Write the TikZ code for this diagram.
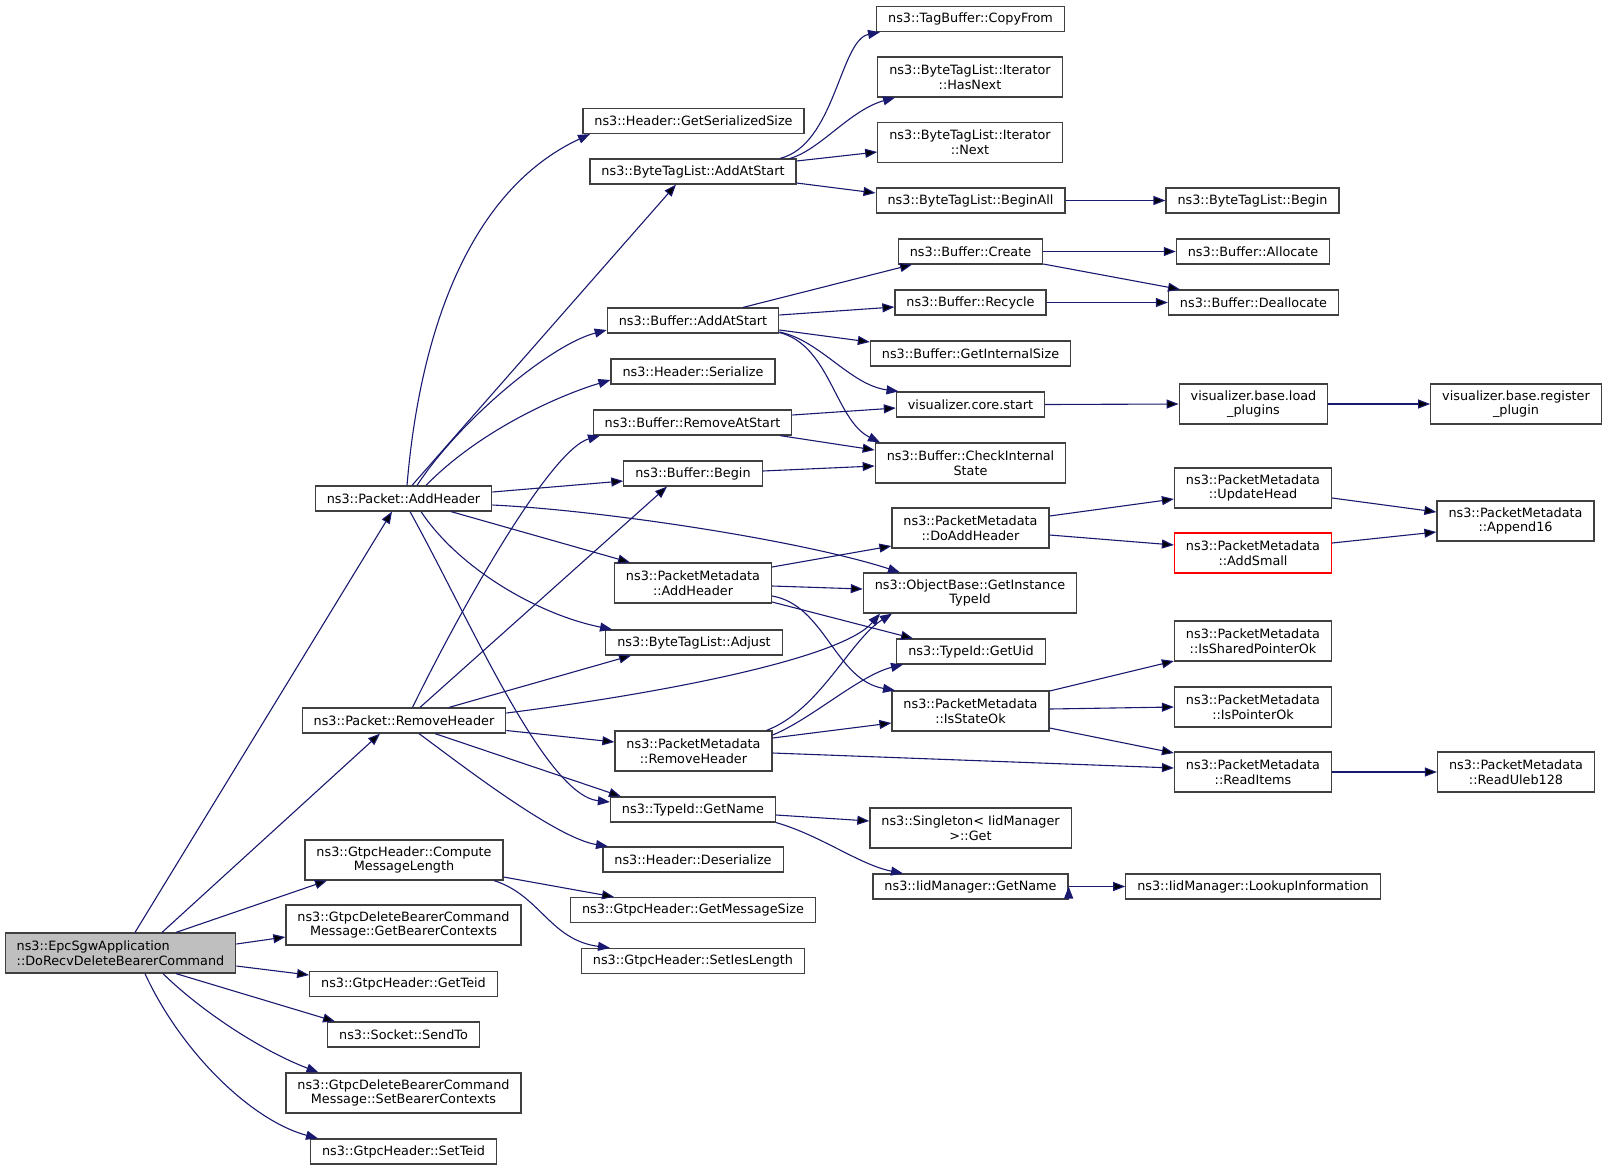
\documentclass[tikz,border=0pt]{standalone}
\usepackage{fontspec}
\setmainfont{DejaVu Sans}
\usepackage{tikz}
\usetikzlibrary{arrows.meta}
\definecolor{midnight}{HTML}{191970}
\definecolor{boxgrey}{HTML}{404040}
\definecolor{rootgrey}{HTML}{BFBFBF}

\begin{document}
\begin{tikzpicture}[x=1pt,y=-1pt,
  fn/.style={draw=boxgrey,line width=1.2pt,fill=white,inner xsep=11.5pt,inner ysep=1pt,
    minimum height=25pt,align=center,font=\fontsize{12.8pt}{14.7pt}\selectfont},
  fn2/.style={fn,minimum height=40pt},
  mainfn/.style={fn2,fill=rootgrey,align=left},
  missing/.style={draw=red},
  call/.style={draw=midnight,line width=1.1pt,-{Triangle[length=12pt,width=9pt]}}]
\useasboundingbox (0,0) rectangle (1608,1171);

\node[mainfn] (epc) at (120.5,953) {ns3::EpcSgwApplication\\::DoRecvDeleteBearerCommand};

\node[fn] (pah) at (403.5,498.5) {ns3::Packet::AddHeader};
\node[fn] (prh) at (404,720.5) {ns3::Packet::RemoveHeader};
\node[fn2] (cml) at (404,860) {ns3::GtpcHeader::Compute\\MessageLength};
\node[fn2] (gbc) at (403.5,925) {ns3::GtpcDeleteBearerCommand\\Message::GetBearerContexts};
\node[fn] (gteid) at (403.5,984) {ns3::GtpcHeader::GetTeid};
\node[fn] (send) at (403.5,1034.5) {ns3::Socket::SendTo};
\node[fn2] (sbc) at (403.5,1093) {ns3::GtpcDeleteBearerCommand\\Message::SetBearerContexts};
\node[fn] (steid) at (403.5,1151.5) {ns3::GtpcHeader::SetTeid};

\node[fn] (gss) at (693.5,121) {ns3::Header::GetSerializedSize};
\node[fn] (btaas) at (693,171.5) {ns3::ByteTagList::AddAtStart};
\node[fn] (baas) at (693,320.5) {ns3::Buffer::AddAtStart};
\node[fn] (hser) at (693,371.5) {ns3::Header::Serialize};
\node[fn] (bras) at (692.5,422.5) {ns3::Buffer::RemoveAtStart};
\node[fn] (bbeg) at (693,473.5) {ns3::Buffer::Begin};
\node[fn2] (pmah) at (693,583) {ns3::PacketMetadata\\::AddHeader};
\node[fn] (btadj) at (694,642.5) {ns3::ByteTagList::Adjust};
\node[fn2] (pmrh) at (693.5,751) {ns3::PacketMetadata\\::RemoveHeader};
\node[fn] (tgn) at (693,809.5) {ns3::TypeId::GetName};
\node[fn] (hdes) at (693,859.5) {ns3::Header::Deserialize};
\node[fn] (gms) at (693,910) {ns3::GtpcHeader::GetMessageSize};
\node[fn] (sies) at (693,961) {ns3::GtpcHeader::SetIesLength};

\node[fn] (tbcf) at (970.5,19) {ns3::TagBuffer::CopyFrom};
\node[fn2] (ithn) at (970,77) {ns3::ByteTagList::Iterator\\::HasNext};
\node[fn2] (itnx) at (970,142.5) {ns3::ByteTagList::Iterator\\::Next};
\node[fn] (btba) at (970.5,200.5) {ns3::ByteTagList::BeginAll};
\node[fn] (bcre) at (970.5,251.5) {ns3::Buffer::Create};
\node[fn] (brec) at (970.5,302.5) {ns3::Buffer::Recycle};
\node[fn] (bgis) at (970.5,353.5) {ns3::Buffer::GetInternalSize};
\node[fn] (vcs) at (970.5,404.5) {visualizer.core.start};
\node[fn2] (bcis) at (970.5,463) {ns3::Buffer::CheckInternal\\State};
\node[fn2] (pmdah) at (970.5,528) {ns3::PacketMetadata\\::DoAddHeader};
\node[fn2] (obgi) at (970,593) {ns3::ObjectBase::GetInstance\\TypeId};
\node[fn] (tguid) at (971,651.5) {ns3::TypeId::GetUid};
\node[fn2] (pmiso) at (970.5,711) {ns3::PacketMetadata\\::IsStateOk};
\node[fn2] (sgget) at (970.5,828) {ns3::Singleton< IidManager\\ >::Get};
\node[fn] (iigm) at (970.5,886.5) {ns3::IidManager::GetName};

\node[fn] (btbeg) at (1252.5,200.5) {ns3::ByteTagList::Begin};
\node[fn] (balloc) at (1253,251.5) {ns3::Buffer::Allocate};
\node[fn] (bdealloc) at (1253.5,302.5) {ns3::Buffer::Deallocate};
\node[fn2] (vblp) at (1253.5,404) {visualizer.base.load\\\_plugins};
\node[fn2] (pmuh) at (1253,488) {ns3::PacketMetadata\\::UpdateHead};
\node[fn2,missing] (pmas) at (1253,553) {ns3::PacketMetadata\\::AddSmall};
\node[fn2] (pmspo) at (1253,641) {ns3::PacketMetadata\\::IsSharedPointerOk};
\node[fn2] (pmipo) at (1253,707) {ns3::PacketMetadata\\::IsPointerOk};
\node[fn2] (pmri) at (1253,772) {ns3::PacketMetadata\\::ReadItems};
\node[fn] (iilk) at (1253,886.5) {ns3::IidManager::LookupInformation};

\node[fn2] (vbrp) at (1516,404) {visualizer.base.register\\\_plugin};
\node[fn2] (pma16) at (1515.5,521) {ns3::PacketMetadata\\::Append16};
\node[fn2] (pmru) at (1516,772) {ns3::PacketMetadata\\::ReadUleb128};

\path[call]
([xshift=14.5pt]epc.north) edge ([xshift=-11.5pt]pah.south)
([xshift=41.5pt]epc.north) edge ([xshift=-24pt]prh.south)
([xshift=55.5pt]epc.north) edge ([xshift=-77pt]cml.south)
([yshift=9pt]epc.east) edge ([yshift=-12pt]gbc.west)
([yshift=-13pt]epc.east) edge ([yshift=9pt]gteid.west)
([xshift=55.5pt]epc.south) edge ([xshift=-68.5pt]send.north)
([xshift=8.5pt]pah.north) edge ([xshift=-17pt]btaas.south)
([yshift=6.5pt]pah.east) edge ([yshift=-7.5pt]bbeg.west)
([xshift=47.5pt]pah.south) edge ([xshift=-63pt]pmah.north)
([xshift=16pt]prh.north) edge ([xshift=-26pt]bbeg.south)
([xshift=45pt]prh.north) edge ([xshift=-63pt]btadj.south)
([yshift=-10pt]prh.east) edge ([yshift=9pt]pmrh.west)
([xshift=31pt]prh.south) edge ([xshift=-72pt]tgn.north)
([yshift=-17pt]cml.east) edge ([xshift=-79pt]gms.north)
([yshift=10.5pt]btaas.east) edge ([yshift=-9.5pt]itnx.west)
([yshift=-11.5pt]btaas.east) edge ([yshift=7.5pt]btba.west)
(btba.east) edge (btbeg.west)
([xshift=50pt]baas.north) edge ([xshift=-58.5pt]bcre.south)
([yshift=5.5pt]baas.east) edge ([yshift=-4.5pt]brec.west)
([yshift=-9.5pt]baas.east) edge ([yshift=11.5pt]bgis.west)
([yshift=7.5pt]bras.east) edge ([yshift=-3.5pt]vcs.west)
([xshift=87.5pt]bras.south) edge ([yshift=13pt]bcis.west)
([yshift=2.5pt]bbeg.east) edge ([yshift=-3pt]bcis.west)
([yshift=16pt]pmah.east) edge ([yshift=-18pt]pmdah.west)
([yshift=-3pt]pmah.east) edge ([yshift=4pt]obgi.west)
([yshift=-19pt]pmah.east) edge ([xshift=-58pt]tguid.north)
([yshift=13pt]pmrh.east) edge ([yshift=-12pt]pmiso.west)
([yshift=-2pt]pmrh.east) edge ([yshift=4pt]pmri.west)
(bcre.east) edge (balloc.west)
([yshift=-12.5pt]bcre.east) edge ([xshift=-73.5pt]bdealloc.north)
(brec.east) edge (bdealloc.west)
(vcs.east) edge (vblp.west)
(vblp.east) edge (vbrp.west)
([yshift=12pt]pmdah.east) edge ([yshift=-11pt]pmuh.west)
([yshift=-7pt]pmdah.east) edge ([yshift=8pt]pmas.west)
([yshift=-10pt]pmuh.east) edge ([yshift=9pt]pma16.west)
([yshift=10pt]pmas.east) edge ([yshift=-11pt]pma16.west)
([yshift=20pt]pmiso.east) edge ([yshift=-20pt]pmspo.west)
([yshift=2pt]pmiso.east) edge (pmipo.west)
([yshift=-17pt]pmiso.east) edge ([yshift=19pt]pmri.west)
(pmri.east) edge (pmru.west)
([yshift=-5.5pt]tgn.east) edge ([yshift=7pt]sgget.west)
(iigm.east) edge (iilk.west);

\draw[call] ([xshift=42.5pt]epc.south) .. controls (200,1010) and (260,1050) .. ([xshift=-85pt]sbc.north);
\draw[call] ([xshift=24.5pt]epc.south) .. controls (180,1050) and (250,1120) .. ([xshift=-85.5pt]steid.north);
\draw[call] ([xshift=3.5pt]pah.north) .. controls (420,330) and (470,190) .. ([xshift=-103.5pt]gss.south);
\draw[call] ([xshift=13.5pt]pah.north) .. controls (460,420) and (550,345) .. ([yshift=-9.5pt]baas.west);
\draw[call] ([xshift=22.5pt]pah.north) .. controls (480,430) and (560,395) .. ([yshift=-8.5pt]hser.west);
\draw[call] ([yshift=-6.5pt]pah.east) .. controls (600,510) and (800,540) .. ([xshift=-70pt]obgi.north);
\draw[call] ([xshift=17.5pt]pah.south) .. controls (460,570) and (540,615) .. ([xshift=-82pt]btadj.north);
\draw[call] ([xshift=6.5pt]pah.south) .. controls (470,620) and (545,795) .. ([yshift=7.5pt]tgn.west);
\draw[call] ([xshift=8.5pt]prh.north) .. controls (460,610) and (550,450) .. ([xshift=-92.5pt]bras.south);
\draw[call] ([yshift=7.5pt]prh.east) .. controls (650,695) and (840,660) .. ([xshift=-90pt]obgi.south);
\draw[call] ([xshift=15pt]prh.south) .. controls (455,760) and (555,838) .. ([xshift=-85pt]hdes.north);
\draw[call] ([xshift=90pt]cml.south) .. controls (540,895) and (550,940) .. ([xshift=-83pt]sies.north);
\draw[call] ([xshift=87pt]btaas.north) .. controls (835,145) and (840,40) .. ([xshift=-90.5pt]tbcf.south);
\draw[call] ([xshift=97pt]btaas.north) .. controls (820,150) and (850,110) .. ([xshift=-75pt]ithn.south);
\draw[call] ([yshift=-11.5pt]baas.east) .. controls (820,340) and (850,385) .. ([xshift=-72pt]vcs.north);
\draw[call] ([yshift=-12pt]baas.east) .. controls (830,345) and (835,420) .. ([xshift=-90.5pt]bcis.north);
\draw[call] ([yshift=-13pt]pmah.east) .. controls (825,605) and (835,680) .. ([xshift=-75.5pt]pmiso.north);
\draw[call] ([xshift=73pt]pmrh.north) .. controls (820,710) and (850,640) .. ([xshift=-78pt]obgi.south);
\draw[call] ([yshift=16pt]pmrh.east) .. controls (810,720) and (860,675) .. ([xshift=-68pt]tguid.south);
\draw[call] (tgn.south east) .. controls (820,835) and (860,865) .. ([xshift=-67.5pt]iigm.north);
\end{tikzpicture}
\end{document}
